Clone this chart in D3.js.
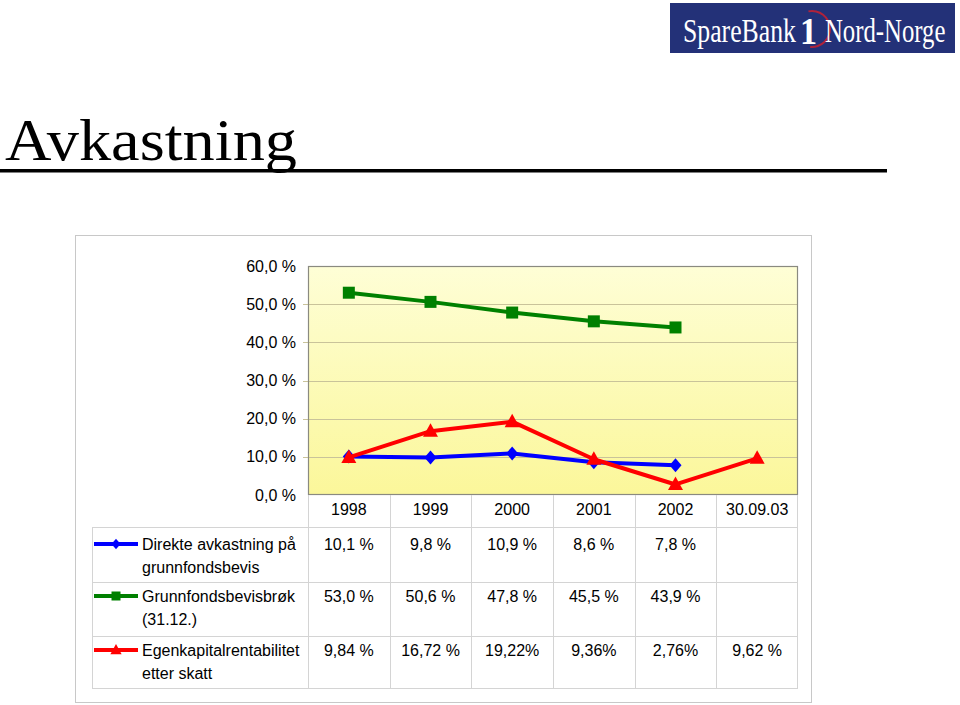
<!DOCTYPE html>
<html><head><meta charset="utf-8">
<script src="https://cdn.jsdelivr.net/npm/d3@7"></script>
<style>body{margin:0;background:#fff;}svg{display:block;}</style>
</head><body>
<svg id="c" width="960" height="705"></svg>
<script>
const categories = ["1998","1999","2000","2001","2002","30.09.03"];
const direkte = [10.1, 9.8, 10.9, 8.6, 7.8, null];
const brok = [53.0, 50.6, 47.8, 45.5, 43.9, null];
const ekr = [9.84, 16.72, 19.22, 9.36, 2.76, 9.62];
const direkteLabels = ["10,1 %","9,8 %","10,9 %","8,6 %","7,8 %",""];
const brokLabels = ["53,0 %","50,6 %","47,8 %","45,5 %","43,9 %",""];
const ekrLabels = ["9,84 %","16,72 %","19,22%","9,36%","2,76%","9,62 %"];
const yTicks = [0,10,20,30,40,50,60];
const seriesNames = [["Direkte avkastning på","grunnfondsbevis"],["Grunnfondsbevisbrøk","(31.12.)"],["Egenkapitalrentabilitet","etter skatt"]];

(function(){
const svg = d3.select("#c");
const font = "'Liberation Sans', Arial, sans-serif";
const fs = 16;

// Logo
const logo = svg.append("g");
logo.append("rect").attr("x",670).attr("y",3).attr("width",285).attr("height",50).attr("fill","#233178");
logo.append("path").attr("d", d3.arc()({innerRadius:17, outerRadius:19, startAngle:-0.2, endAngle:Math.PI+0.1}))
  .attr("transform","translate(812,29)").attr("fill","#b0223a");
logo.append("g").attr("transform","translate(683,42) scale(0.78,1)")
  .append("text").attr("x",0).attr("y",0).attr("font-family","'Liberation Serif', serif").attr("font-size",33)
  .attr("fill","#fff").text("SpareBank");
logo.append("g").attr("transform","translate(800,44) scale(0.9,1)")
  .append("text").attr("x",0).attr("y",0).attr("font-family","'Liberation Serif', serif").attr("font-weight","bold").attr("font-size",38)
  .attr("fill","#fff").text("1");
logo.append("g").attr("transform","translate(825,42) scale(0.75,1)")
  .append("text").attr("x",0).attr("y",0).attr("font-family","'Liberation Serif', serif").attr("font-size",33)
  .attr("fill","#fff").text("Nord-Norge");

// Title
svg.append("text").attr("x",5).attr("y",160).attr("font-family","'Liberation Serif','Times New Roman',serif")
  .attr("font-size",60).attr("fill","#000").attr("textLength",292).attr("lengthAdjust","spacingAndGlyphs").text("Avkastning");
svg.append("rect").attr("x",0).attr("y",169).attr("width",887).attr("height",3.5).attr("fill","#000");

// Outer frame
svg.append("rect").attr("x",75.5).attr("y",235.5).attr("width",736).attr("height",467).attr("fill","#fff").attr("stroke","#c8c8c8").attr("stroke-width",1);

const pLeft=308, pRight=798, pTop=266, pBottom=495;
const x = d3.scaleBand().domain(categories).range([pLeft,pRight]).padding(0);
const cx = d => x(d)+x.bandwidth()/2;
const y = d3.scaleLinear().domain([0,60]).range([pBottom,pTop]);

const defs = svg.append("defs");
const grad = defs.append("linearGradient").attr("id","bg").attr("x1",0).attr("y1",0).attr("x2",0).attr("y2",1);
grad.append("stop").attr("offset","0%").attr("stop-color","#fefed6");
grad.append("stop").attr("offset","100%").attr("stop-color","#fbf79a");
svg.append("rect").attr("x",pLeft).attr("y",pTop).attr("width",pRight-pLeft).attr("height",pBottom-pTop).attr("fill","url(#bg)");

// gridlines
svg.append("g").selectAll("line").data(yTicks.filter(t=>t>0&&t<60)).join("line")
  .attr("x1",pLeft-5).attr("x2",pRight).attr("y1",d=>Math.round(y(d))+0.5).attr("y2",d=>Math.round(y(d))+0.5)
  .attr("stroke","#c9c39a").attr("stroke-width",1);
svg.append("rect").attr("x",pLeft+0.5).attr("y",pTop+0.5).attr("width",pRight-pLeft-1).attr("height",pBottom-pTop-1)
  .attr("fill","none").attr("stroke","#8a8a80").attr("stroke-width",1.2);

// y axis labels
const yAxis = d3.axisLeft(y).tickValues(yTicks).tickSize(0).tickPadding(12)
  .tickFormat(d=>d3.format(".1f")(d).replace(".",",")+" %");
const ga = svg.append("g").attr("transform",`translate(${pLeft},0)`).call(yAxis);
ga.select(".domain").remove();
ga.selectAll("text").attr("font-family",font).attr("font-size",fs).attr("fill","#000");

// lines
const series = [
  {vals:direkte, color:"#0000ff", marker:"diamond"},
  {vals:brok, color:"#008000", marker:"square"},
  {vals:ekr, color:"#ff0000", marker:"triangle"}
];
const line = d3.line().defined(d=>d.v!=null).x(d=>cx(d.c)).y(d=>y(d.v));
function markerPath(type){
  if(type==="diamond") return "M0,-7L6,0L0,7L-6,0Z";
  if(type==="square") return "M-6,-6H6V6H-6Z";
  return "M0,-8L7.5,5.5H-7.5Z";
}
series.forEach(s=>{
  const data = categories.map((c,i)=>({c, v:s.vals[i]}));
  svg.append("path").datum(data).attr("d",line).attr("fill","none").attr("stroke",s.color).attr("stroke-width",4).attr("stroke-linejoin","round");
  svg.append("g").selectAll("path").data(data.filter(d=>d.v!=null)).join("path")
    .attr("d",markerPath(s.marker)).attr("transform",d=>`translate(${cx(d.c)},${y(d.v)})`).attr("fill",s.color);
});

// table
const tg = svg.append("g");
const gridColor="#d4d4d4";
[527,582,636,688].forEach(ry=>{
  tg.append("line").attr("x1",92).attr("x2",pRight).attr("y1",ry+0.5).attr("y2",ry+0.5).attr("stroke",gridColor);
});
tg.append("line").attr("x1",92.5).attr("x2",92.5).attr("y1",527).attr("y2",688).attr("stroke",gridColor);
categories.forEach(c=>{
  tg.append("line").attr("x1",Math.round(x(c))+0.5).attr("x2",Math.round(x(c))+0.5).attr("y1",pBottom).attr("y2",688).attr("stroke",gridColor);
});
tg.append("line").attr("x1",pRight-0.5).attr("x2",pRight-0.5).attr("y1",pBottom).attr("y2",688).attr("stroke",gridColor);

tg.selectAll("text.cat").data(categories).join("text").attr("class","cat")
  .attr("x",d=>cx(d)).attr("y",515).attr("text-anchor","middle").attr("font-family",font).attr("font-size",fs).text(d=>d);

const rowLabels=[direkteLabels,brokLabels,ekrLabels];
const rowY=[550,602,656];
rowLabels.forEach((labs,r)=>{
  tg.append("g").selectAll("text").data(labs).join("text")
    .attr("x",(d,i)=>cx(categories[i])).attr("y",rowY[r]).attr("text-anchor","middle")
    .attr("font-family",font).attr("font-size",fs).text(d=>d);
  const s=series[r];
  const ly=rowY[r]-6;
  tg.append("line").attr("x1",94).attr("x2",138).attr("y1",ly).attr("y2",ly).attr("stroke",s.color).attr("stroke-width",4);
  tg.append("path").attr("d",markerPath(s.marker)).attr("transform",`translate(116,${ly}) scale(0.75)`).attr("fill",s.color);
  seriesNames[r].forEach((t,k)=>{
    tg.append("text").attr("x",142).attr("y",rowY[r]+k*23).attr("font-family",font).attr("font-size",fs).text(t);
  });
});
})();
</script>
</body></html>
